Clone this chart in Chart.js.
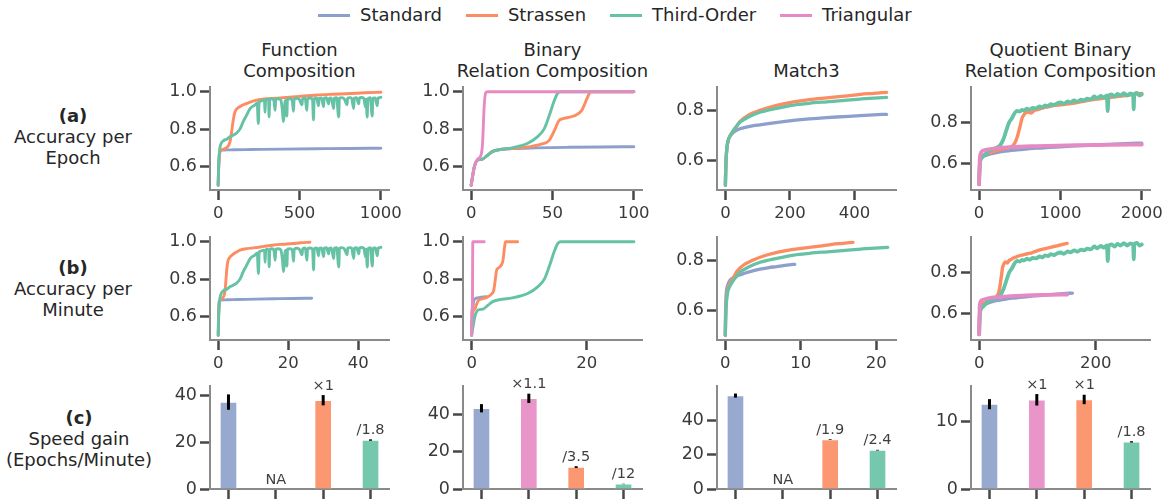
<!DOCTYPE html>
<html><head><meta charset="utf-8">
<script src="https://cdn.jsdelivr.net/npm/chart.js@4.4.1/dist/chart.umd.min.js"></script>
<style>
html,body{margin:0;padding:0;background:#fff}
body{width:1164px;height:499px;position:relative;overflow:hidden;font-family:"DejaVu Sans",sans-serif;color:#262626}
canvas{position:absolute}
.txt{position:absolute;transform:translateX(-50%);text-align:center;white-space:nowrap;font-size:18px;line-height:21px}
.leg{position:absolute;top:4px;left:318px;display:flex;align-items:center;font-size:18px;line-height:22px}
.leg .it{display:flex;align-items:center;margin-right:24px}
.leg .sw{display:inline-block;width:32px;height:3px;margin-right:10px}
</style></head><body>
<script>
// ---------------- data ----------------
const seriesNames  = ['Standard','Strassen','Third-Order','Triangular'];
const seriesColors = ['#8da0cb','#fc8d62','#66c2a5','#e78ac3'];
const taskTitles = [['Function','Composition'],['Binary','Relation Composition'],['Match3'],['Quotient Binary','Relation Composition']];
const rowTitles  = [['(a)','Accuracy per','Epoch'],['(b)','Accuracy per','Minute'],['(c)','Speed gain','(Epochs/Minute)']];
const barOrder   = ['Standard','Triangular','Strassen','Third-Order'];

// Function Composition: [epoch, accuracy]
const fcStandard = [[0,0.5],[4,0.62],[10,0.68],[20,0.688],[50,0.689],[100,0.69],[200,0.691],[400,0.693],[600,0.695],[800,0.697],[1000,0.698]];
const fcStrassen = [[0,0.5],[4,0.6],[12,0.68],[25,0.69],[50,0.7],[65,0.715],[75,0.74],[85,0.8],[95,0.86],[105,0.895],[117,0.91],[154,0.93],[200,0.945],[237,0.955],[300,0.962],[401,0.968],[500,0.975],[607,0.982],[700,0.986],[813,0.99],[900,0.994],[1000,0.997]];
const fcThirdOrder = [[0,0.5],[3,0.6],[8,0.68],[14,0.714],[35,0.74],[50,0.745],[72,0.759],[109,0.776],[134,0.8],[154,0.84],[175,0.875],[196,0.91],[227,0.93],[240,0.94],[247,0.83],[252,0.945],[265,0.95],[278,0.955],[285,0.95],[288,0.89],[292,0.955],[300,0.96],[310,0.955],[313,0.866],[317,0.958],[330,0.962],[342,0.955],[350,0.9],[354,0.96],[370,0.962],[385,0.955],[395,0.9],[401,0.84],[406,0.88],[412,0.95],[418,0.955],[422,0.87],[426,0.96],[440,0.962],[455,0.955],[463,0.895],[467,0.96],[485,0.965],[500,0.958],[515,0.93],[519,0.962],[535,0.966],[545,0.9],[549,0.962],[565,0.966],[580,0.958],[586,0.85],[590,0.962],[605,0.966],[617,0.925],[621,0.965],[635,0.967],[648,0.92],[652,0.965],[665,0.968],[679,0.935],[683,0.965],[695,0.967],[710,0.91],[714,0.966],[728,0.968],[741,0.865],[745,0.965],[760,0.968],[775,0.962],[792,0.93],[796,0.966],[810,0.968],[820,0.965],[833,0.91],[837,0.966],[850,0.968],[864,0.935],[868,0.966],[880,0.969],[895,0.965],[905,0.92],[909,0.96],[916,0.865],[920,0.962],[935,0.968],[947,0.87],[951,0.965],[965,0.966],[978,0.925],[982,0.965],[992,0.968],[1000,0.97]];
const fcMinutes = [26.7, 26.2, 46.5, null];   // total training minutes per series
const fcSpeed = [37.3, null, 38.1, 21.0];      // bar order
const fcSpeedErr = [3.3, 0, 2.2, 0.3];
const fcNotes = ['', 'NA', '×1', '/1.8'];

// Binary Relation Composition
const brStandard = [[0,0.5],[2,0.6],[4,0.635],[7,0.64],[10,0.66],[13,0.68],[17,0.69],[25,0.696],[40,0.7],[60,0.703],[80,0.705],[100,0.706]];
const brStrassen = [[0,0.5],[2,0.6],[4,0.635],[7,0.64],[10,0.66],[13,0.68],[17,0.69],[25,0.696],[35,0.705],[43,0.72],[48,0.74],[51,0.79],[54,0.845],[57,0.857],[63,0.87],[68,0.9],[71.5,0.97],[73.5,1.0],[100,1.0]];
const brThirdOrder = [[0,0.5],[2,0.6],[4,0.635],[7,0.64],[10,0.66],[13,0.68],[17,0.69],[25,0.7],[30,0.71],[34.5,0.723],[40.7,0.759],[44.8,0.8],[47.9,0.87],[51,0.95],[53,0.99],[55,1.0],[100,1.0]];
const brTriangular = [[0,0.5],[2,0.6],[4,0.64],[6,0.66],[7,0.72],[8,0.92],[9,0.995],[10,1.0],[100,1.0]];
const brMinutes = [2.6, 8.0, 28.2, 2.2];
const brSpeed = [43.2, 48.5, 11.7, 2.7];
const brSpeedErr = [2.2, 2.5, 0.5, 0.1];
const brNotes = ['', '×1.1', '/3.5', '/12'];

// Match3
const m3Standard = [[0,0.5],[1,0.56],[2,0.6],[4,0.64],[7,0.67],[10,0.685],[20,0.705],[34,0.72],[55,0.73],[80,0.737],[107,0.742],[150,0.75],[211,0.76],[260,0.766],[314,0.771],[370,0.775],[418,0.779],[460,0.782],[500,0.784]];
const m3Strassen = [[0,0.5],[1,0.56],[2,0.6],[4,0.64],[7,0.67],[10,0.685],[20,0.71],[34,0.735],[45,0.755],[70,0.78],[107,0.8],[159,0.82],[211,0.834],[260,0.843],[314,0.85],[370,0.857],[418,0.864],[460,0.868],[500,0.872]];
const m3ThirdOrder = [[0,0.5],[1,0.56],[2,0.6],[4,0.64],[7,0.67],[10,0.685],[20,0.71],[34,0.735],[45,0.752],[70,0.772],[107,0.792],[159,0.808],[211,0.821],[260,0.828],[314,0.834],[370,0.84],[418,0.845],[460,0.849],[500,0.852]];
const m3Minutes = [9.2, 16.9, 21.5, null];
const m3Speed = [54.6, null, 28.9, 22.7];
const m3SpeedErr = [1.2, 0, 0.2, 0.2];
const m3Notes = ['', 'NA', '/1.9', '/2.4'];

// Quotient Binary Relation Composition
const qStandard = [[0,0.5],[10,0.6],[20,0.62],[50,0.635],[100,0.642],[200,0.652],[300,0.66],[500,0.668],[700,0.675],[1000,0.682],[1200,0.686],[1500,0.692],[1800,0.697],[2000,0.7]];
const qStrassen = [[0,0.5],[10,0.6],[20,0.62],[54,0.642],[150,0.655],[219,0.665],[300,0.672],[384,0.68],[420,0.69],[446,0.705],[470,0.73],[487,0.755],[510,0.79],[528,0.82],[550,0.835],[569,0.845],[600,0.85],[640,0.845],[673,0.856],[720,0.862],[797,0.872],[850,0.875],[900,0.88],[1000,0.885],[1100,0.89],[1210,0.896],[1300,0.903],[1400,0.91],[1500,0.915],[1622,0.921],[1700,0.925],[1800,0.93],[1900,0.935],[2000,0.94]];
const qThirdOrder = [[0,0.5],[10,0.6],[20,0.62],[50,0.635],[100,0.655],[137,0.665],[200,0.675],[260,0.69],[300,0.72],[343,0.771],[370,0.8],[404,0.82],[430,0.84],[466,0.855],[500,0.852],[530,0.86],[548,0.857],[590,0.866],[620,0.861],[660,0.87],[700,0.868],[745,0.877],[775,0.872],[810,0.882],[850,0.879],[880,0.888],[925,0.884],[960,0.892],[1003,0.896],[1040,0.89],[1090,0.901],[1120,0.897],[1170,0.906],[1210,0.9],[1255,0.91],[1290,0.906],[1330,0.915],[1370,0.911],[1416,0.925],[1450,0.916],[1495,0.928],[1530,0.92],[1570,0.93],[1581,0.855],[1592,0.928],[1630,0.935],[1665,0.924],[1700,0.938],[1735,0.93],[1780,0.941],[1820,0.93],[1860,0.94],[1893,0.932],[1901,0.863],[1908,0.936],[1940,0.943],[1970,0.93],[2000,0.935]];
const qTriangular = [[0,0.5],[10,0.63],[20,0.65],[33,0.66],[95,0.668],[200,0.674],[384,0.68],[700,0.685],[1210,0.69],[1600,0.691],[2000,0.693]];
const qMinutes = [160, 151, 279, 151];
const qSpeed = [12.6, 13.25, 13.3, 7.0];
const qSpeedErr = [0.75, 0.85, 0.7, 0.1];
const qNotes = ['', '×1', '×1', '/1.8'];

// tick labels
const accTicksHi = [0.6, 0.8, 1.0];
const accTicksLo = [0.6, 0.8];

// ---------------- layout ----------------
const colLeft = [210, 463, 717, 971];
const rowTop = [87, 237, 386];
const plotW = 179, plotH = 103;
const AX_W = 64, AX_H = 36, PAD_T = 14, PAD_R = 20;
const FONT = "'DejaVu Sans', sans-serif";
const X_TICK_SIZE = 16.5, Y_TICK_SIZE = 17.5;

const tasks = [
  {series:[fcStandard, fcStrassen, fcThirdOrder, null], minutes:fcMinutes,
   epochX:[-50,1050], epochTicks:[0,500,1000], minX:[-2.35,48.8], minTicks:[0,20,40],
   accY:[0.475,1.025], accTicks:accTicksHi,
   speed:fcSpeed, err:fcSpeedErr, notes:fcNotes, speedY:[0,44.2], speedTicks:[0,20,40]},
  {series:[brStandard, brStrassen, brThirdOrder, brTriangular], minutes:brMinutes,
   epochX:[-5,105], epochTicks:[0,50,100], minX:[-1.5,29.6], minTicks:[0,20],
   accY:[0.475,1.025], accTicks:accTicksHi,
   speed:brSpeed, err:brSpeedErr, notes:brNotes, speedY:[0,55.1], speedTicks:[0,20,40]},
  {series:[m3Standard, m3Strassen, m3ThirdOrder, null], minutes:m3Minutes,
   epochX:[-26,529], epochTicks:[0,200,400], minX:[-1.1,22.6], minTicks:[0,10,20],
   accY:[0.4812,0.8932], accTicks:accTicksLo,
   speed:m3Speed, err:m3SpeedErr, notes:m3Notes, speedY:[0,60.2], speedTicks:[0,20,40]},
  {series:[qStandard, qStrassen, qThirdOrder, qTriangular], minutes:qMinutes,
   epochX:[-99,2101], epochTicks:[0,1000,2000], minX:[-14,293], minTicks:[0,200],
   accY:[0.473,0.971], accTicks:accTicksLo,
   speed:qSpeed, err:qSpeedErr, notes:qNotes, speedY:[0,15.3], speedTicks:[0,10]}
];

// ---------------- helpers ----------------
function makeCanvas(col, row) {
  const c = document.createElement('canvas');
  const w = AX_W + plotW + PAD_R, h = PAD_T + plotH + AX_H;
  c.width = w; c.height = h;
  c.style.left = (colLeft[col] - AX_W) + 'px';
  c.style.top = (rowTop[row] - PAD_T) + 'px';
  c.style.width = w + 'px'; c.style.height = h + 'px';
  document.body.appendChild(c);
  return c;
}
function axis(range, tickVals, fmt, isX) {
  return {
    type: 'linear', min: range[0], max: range[1], offset: false,
    afterBuildTicks: s => { s.ticks = tickVals.map(v => ({value: v})); },
    afterFit: s => { if (isX) s.height = AX_H; else s.width = AX_W; },
    grid: {display: true, offset: false, drawOnChartArea: false, drawTicks: true,
           tickLength: 10, tickWidth: 2.5, tickColor: '#474747', color: '#474747'},
    border: {display: true, color: '#8a8a8a', width: 2},
    ticks: {color: '#3a3a3a', font: {family: FONT, size: isX ? X_TICK_SIZE : Y_TICK_SIZE}, padding: isX ? 4 : 3,
            maxRotation: 0, autoSkip: false, callback: v => fmt(v)}
  };
}
const baseOpts = {
  responsive: false, animation: false, devicePixelRatio: 1,
  layout: {padding: {top: PAD_T, right: PAD_R, left: 0, bottom: 0}},
  plugins: {legend: {display: false}, tooltip: {enabled: false}},
  events: []
};

function linePanel(col, row, task, useMinutes) {
  const datasets = [];
  task.series.forEach((s, i) => {
    if (!s) return;
    const lastEpoch = s[s.length - 1][0];
    const scale = useMinutes ? task.minutes[i] / lastEpoch : 1;
    let bw = col >= 2 ? 3.3 : 2.9;
    if (col === 3 && (i === 2 || i === 3)) bw = 3.8;
    if (col === 3 && i === 1) bw = 3.4;
    datasets.push({
      label: seriesNames[i],
      data: s.map(p => ({x: p[0] * scale, y: p[1]})),
      borderColor: seriesColors[i], backgroundColor: seriesColors[i],
      borderWidth: bw, pointRadius: 0, fill: false,
      cubicInterpolationMode: 'monotone', order: 4 - i,
      borderJoinStyle: 'round', borderCapStyle: 'round'
    });
  });
  new Chart(makeCanvas(col, row), {
    type: 'line', data: {datasets},
    options: Object.assign({}, baseOpts, {
      scales: {
        x: axis(useMinutes ? task.minX : task.epochX, useMinutes ? task.minTicks : task.epochTicks, v => String(v), true),
        y: axis(task.accY, task.accTicks, v => v.toFixed(1), false)
      }
    })
  });
}

const barExtras = {
  id: 'barExtras',
  afterDatasetsDraw(chart) {
    const t = chart.config._config.taskRef;
    const {ctx, scales: {x, y}} = chart;
    ctx.save();
    t.speed.forEach((v, i) => {
      const px = x.getPixelForValue(i);
      let topY;
      if (v != null) {
        const e = t.err[i];
        ctx.strokeStyle = '#000'; ctx.lineWidth = 3; ctx.lineCap = 'butt';
        ctx.beginPath();
        ctx.moveTo(px, y.getPixelForValue(v - e));
        ctx.lineTo(px, y.getPixelForValue(v + e));
        ctx.stroke();
        topY = y.getPixelForValue(v + e);
      } else {
        topY = y.getPixelForValue(0);
      }
      if (t.notes[i]) {
        ctx.fillStyle = '#404040';
        ctx.font = '14.5px ' + FONT;
        ctx.textAlign = 'center'; ctx.textBaseline = 'bottom';
        ctx.fillText(t.notes[i], px, topY - 2);
      }
    });
    ctx.restore();
  }
};

function barPanel(col, task) {
  const data = task.speed.map((v, i) => ({x: i, y: v}));
  const colors = barOrder.map(n => seriesColors[seriesNames.indexOf(n)] + 'e6');
  const cfg = {
    type: 'bar',
    data: {datasets: [{data, backgroundColor: colors, borderColor: 'rgba(255,255,255,0.5)', borderWidth: 1, barThickness: 17}]},
    options: Object.assign({}, baseOpts, {
      scales: {
        x: axis([-0.39, 3.39], [0, 1, 2, 3], v => '', true),
        y: axis(task.speedY, task.speedTicks, v => String(v), false)
      }
    }),
    plugins: [barExtras]
  };
  cfg.taskRef = task;
  new Chart(makeCanvas(col, 2), cfg);
}

// ---------------- text ----------------
function addText(html, cx, top) {
  const d = document.createElement('div');
  d.className = 'txt'; d.innerHTML = html;
  d.style.left = cx + 'px'; d.style.top = top + 'px';
  document.body.appendChild(d);
}
taskTitles.forEach((lines, c) => {
  const cx = colLeft[c] + plotW / 2;
  const top = 59.5 - (lines.length - 1) * 21;
  addText(lines.join('<br>'), cx, top);
});
const rowCenters = [73, 73, 79];
const rowFirst = [104.5, 256.5, 406.5];
rowTitles.forEach((lines, r) => {
  addText('<b>' + lines[0] + '</b><br>' + lines.slice(1).join('<br>'), rowCenters[r], rowFirst[r]);
});
const leg = document.createElement('div');
leg.className = 'leg';
seriesNames.forEach((n, i) => {
  const it = document.createElement('div'); it.className = 'it';
  it.innerHTML = '<span class="sw" style="background:' + seriesColors[i] + '"></span><span>' + n + '</span>';
  leg.appendChild(it);
});
document.body.appendChild(leg);

// ---------------- charts ----------------
tasks.forEach((t, c) => {
  linePanel(c, 0, t, false);
  linePanel(c, 1, t, true);
  barPanel(c, t);
});
</script>
</body></html>
